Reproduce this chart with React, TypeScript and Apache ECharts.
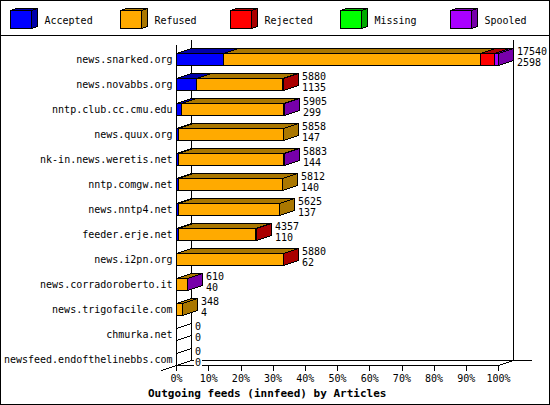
import React, { useEffect, useRef } from "react";
import * as echarts from "echarts";

const hosts = [
  "news.snarked.org", "news.novabbs.org", "nntp.club.cc.cmu.edu", "news.quux.org",
  "nk-in.news.weretis.net", "nntp.comgw.net", "news.nntp4.net", "feeder.erje.net",
  "news.i2pn.org", "news.corradoroberto.it", "news.trigofacile.com", "chmurka.net",
  "newsfeed.endofthelinebbs.com",
];
const accepted = [14.6, 6.2, 1.6, 0.5, 0.5, 0.5, 0.5, 0.5, 0, 0, 0, 0, 0];
const refused = [79.9, 26.8, 31.7, 32.8, 32.8, 32.5, 31.6, 24, 33.1, 3.3, 1.9, 0, 0];
const rejected = [4.2, 0.3, 0, 0, 0, 0, 0, 0.2, 0.2, 0, 0, 0, 0];
const missing = [0, 0, 0, 0, 0, 0, 0, 0, 0, 0, 0, 0, 0];
const spooled = [1.3, 0, 0.2, 0, 0.2, 0, 0, 0, 0, 0.1, 0, 0, 0];
const totalLabels = ["17540", "5880", "5905", "5858", "5883", "5812", "5625", "4357", "5880", "610", "348", "0", "0"];
const secondLabels = ["2598", "1135", "299", "147", "144", "140", "137", "110", "62", "40", "4", "0", "0"];
const axisTicks = [0, 10, 20, 30, 40, 50, 60, 70, 80, 90, 100];
const statusNames = ["Accepted", "Refused", "Rejected", "Missing", "Spooled"];
const statusValues = [accepted, refused, rejected, missing, spooled];
const frontColors = ["#0000ff", "#ffaa00", "#ff0000", "#00ff00", "#aa00ff"];
const sideColors = ["#0000aa", "#aa7700", "#aa0000", "#00aa00", "#7700aa"];
const titleText = "Outgoing feeds (innfeed) by Articles";

const MONO = "'DejaVu Sans Mono', 'Liberation Mono', monospace";
const DX = 15;
const DY = 5;
const BAR_H = 12;
const crisp = (v: number) => Math.floor(v) + 0.5;

function boxChildren(x0: number, x1: number, top: number, bottom: number, dx: number, dy: number, front: string, side: string) {
  const stroke = { stroke: "#000", lineWidth: 1 };
  return [
    { type: "polygon", shape: { points: [[x0, top], [x0 + dx, top - dy], [x1 + dx, top - dy], [x1, top]] }, style: { fill: side, ...stroke } },
    { type: "polygon", shape: { points: [[x1, top], [x1 + dx, top - dy], [x1 + dx, bottom - dy], [x1, bottom]] }, style: { fill: side, ...stroke } },
    { type: "rect", shape: { x: x0, y: top, width: x1 - x0, height: bottom - top }, style: { fill: front, ...stroke } },
  ];
}

function buildSeries() {
  const running = hosts.map(() => 0);
  const series: any[] = statusNames.map((name, s) => {
    const data: number[][] = [];
    statusValues[s].forEach((v, i) => {
      if (v > 0) data.push([i, running[i], running[i] + v]);
      running[i] += v;
    });
    return {
      type: "custom",
      name,
      clip: false,
      silent: true,
      encode: { y: 0, x: [1, 2] },
      data,
      renderItem: (_: any, api: any) => {
        const a = api.coord([api.value(1), api.value(0)]);
        const b = api.coord([api.value(2), api.value(0)]);
        const top = crisp(a[1] - BAR_H / 2);
        const bottom = top + BAR_H;
        return {
          type: "group",
          children: boxChildren(crisp(a[0]), crisp(b[0]), top, bottom, DX, DY, frontColors[s], sideColors[s]),
        };
      },
    };
  });
  series.push({
    type: "custom",
    name: "labels",
    clip: false,
    silent: true,
    z: 5,
    encode: { y: 0, x: 1 },
    data: hosts.map((_, i) => [i, running[i]]),
    renderItem: (_: any, api: any) => {
      const i = api.value(0);
      const end = api.value(1);
      const p = api.coord([end, i]);
      const children: any[] = [];
      if (end === 0) {
        const x = crisp(p[0]);
        const top = crisp(p[1] - BAR_H / 2);
        [top, top + BAR_H].forEach((y) =>
          children.push({ type: "line", shape: { x1: x, y1: y, x2: x + DX, y2: y - DY }, style: { stroke: "#000", lineWidth: 1 } })
        );
      }
      [[totalLabels[i], -8], [secondLabels[i], 3]].forEach(([t, off]: any) =>
        children.push({
          type: "text",
          x: Math.floor(p[0]) + 18,
          y: p[1] + off,
          style: { text: t, fontFamily: MONO, fontSize: 10, fill: "#000", align: "left", verticalAlign: "middle", backgroundColor: "#fff", padding: [0, 1] },
        })
      );
      return { type: "group", children };
    },
  });
  return series;
}

function buildGraphic() {
  const blk = { stroke: "#000", lineWidth: 1 };
  const line = (x1: number, y1: number, x2: number, y2: number) => ({ type: "line", shape: { x1, y1, x2, y2 }, style: blk });
  const els: any[] = [
    { type: "rect", shape: { x: 0.5, y: 0.5, width: 549, height: 404 }, style: { fill: "none", ...blk } },
    line(0, 35.5, 550, 35.5),
    line(176.5, 45, 176.5, 365.5),
    line(191.5, 40, 191.5, 360.5),
    line(513.5, 40, 513.5, 360.5),
    line(191.5, 360.5, 532, 360.5),
    line(161.5, 370.5, 191.5, 360.5),
    line(498.5, 365.5, 513.5, 360.5),
  ];
  statusNames.forEach((name, s) => {
    const x0 = 10.5 + 110 * s;
    boxChildren(x0, x0 + 21, 10.5, 28.5, 6, 2, frontColors[s], sideColors[s]).forEach((c) => els.push(c));
    els.push({
      type: "text",
      x: x0 + 34,
      y: 20,
      style: { text: name, fontFamily: MONO, fontSize: 10, fill: "#000", align: "left", verticalAlign: "middle" },
    });
  });
  return els;
}

export default function App() {
  const ref = useRef<HTMLDivElement>(null);
  useEffect(() => {
    document.body.style.margin = "0";
    const styleEl = document.createElement("style");
    styleEl.textContent = "#root svg path{shape-rendering:crispEdges}";
    document.head.appendChild(styleEl);
    const chart = echarts.init(ref.current!, null, { renderer: "svg" });
    chart.setOption({
      animation: false,
      backgroundColor: "#fff",
      title: {
        text: titleText,
        left: 148,
        top: 388,
        padding: 0,
        textStyle: { fontFamily: MONO, fontSize: 11, fontWeight: "bold", color: "#000" },
      },
      grid: { left: 176.5, width: 322, top: 46.5, height: 325 },
      xAxis: {
        type: "value",
        min: axisTicks[0],
        max: axisTicks[axisTicks.length - 1],
        interval: axisTicks[1] - axisTicks[0],
        offset: -6,
        splitLine: { show: false },
        axisLine: { show: true, lineStyle: { color: "#000", width: 1 } },
        axisTick: { show: true, length: 5, lineStyle: { color: "#000", width: 1 } },
        axisLabel: { color: "#000", fontFamily: MONO, fontSize: 10, margin: 8, formatter: "{value}%", showMinLabel: true, showMaxLabel: true, hideOverlap: false },
      },
      yAxis: {
        type: "category",
        inverse: true,
        data: hosts,
        axisLine: { show: false },
        axisTick: { show: false },
        splitLine: { show: false },
        axisLabel: { color: "#000", fontFamily: MONO, fontSize: 10, margin: 4, interval: 0 },
      },
      graphic: buildGraphic(),
      series: buildSeries(),
    });
    return () => {
      chart.dispose();
      styleEl.remove();
    };
  }, []);
  return <div ref={ref} style={{ width: 550, height: 405 }} />;
}
